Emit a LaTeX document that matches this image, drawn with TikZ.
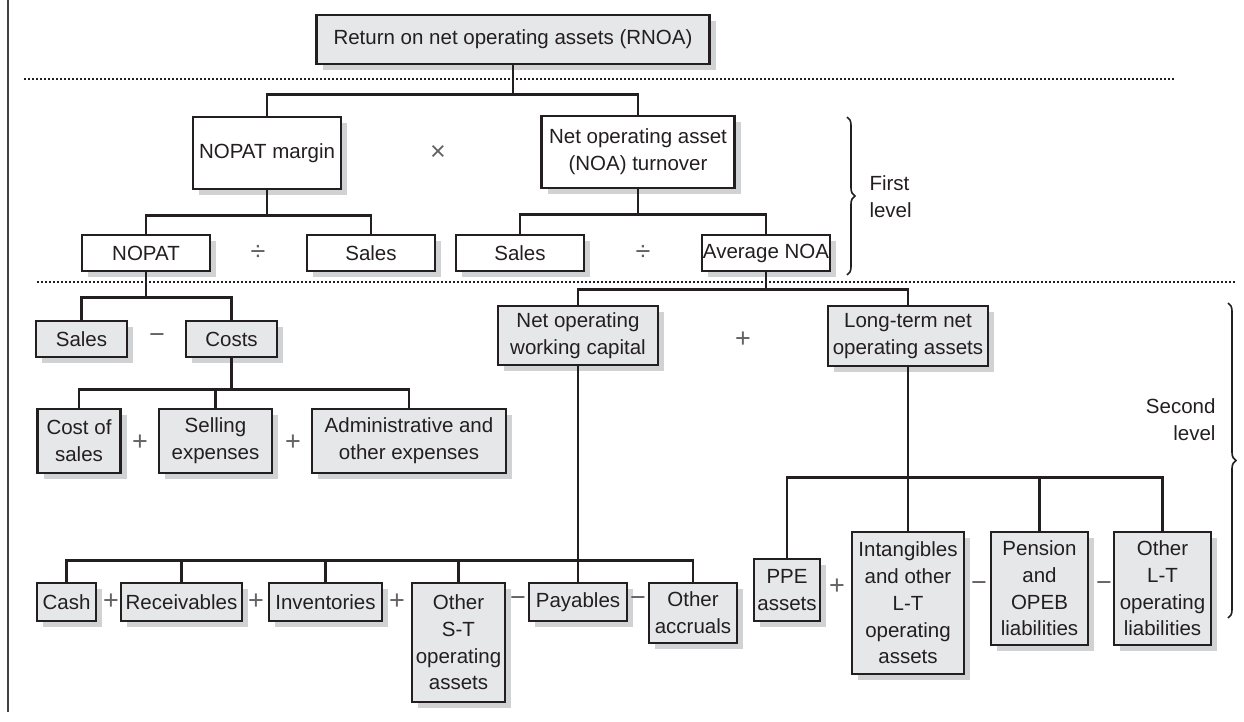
\documentclass[tikz,border=0pt]{standalone}
\usepackage{fontspec}
\setmainfont{Liberation Sans}
\usetikzlibrary{shadows, decorations.pathreplacing}

\definecolor{ink}{HTML}{231F20}
\definecolor{boxgrey}{HTML}{E6E7E8}
\definecolor{shadowgrey}{HTML}{D1D2D4}

\begin{document}
\begin{tikzpicture}
  [
    x=1pt, y=-1pt,
    every node/.style={font=\fontsize{20.5}{26.7}\selectfont, text=ink},
    box/.style={draw=ink, line width=2.6pt, inner sep=0pt, align=center,
      drop shadow={shadow xshift=6pt, shadow yshift=-6pt, fill=shadowgrey, opacity=1}},
    plainbox/.style={box, fill=white},
    greybox/.style={box, fill=boxgrey},
    link/.style={draw=ink, line width=2.4pt},
    op/.style={text=ink!70, font=\fontsize{27}{30}\selectfont},
    levelline/.style={draw=ink, line width=2.2pt, dash pattern=on 2.2pt off 1.8pt},
    levelbrace/.style={draw=ink, line width=1.6pt, decorate, decoration={brace, amplitude=8pt}}
  ]
  \useasboundingbox (0,0) rectangle (1244,721);

  % frame line and level separators
  \draw[ink!85, line width=2pt] (8,0) -- (8,712);
  \draw[levelline] (24,79) -- (1175,79);
  \draw[levelline] (37,282) -- (1235,282);

  % top
  \node[greybox, minimum width=393pt, minimum height=49pt] (rnoa) at (513,39.5)
    {Return on net operating assets (RNOA)};

  % first level
  \node[plainbox, minimum width=148pt, minimum height=72pt] (nopatm) at (267,153) {NOPAT margin};
  \node[plainbox, minimum width=193pt, minimum height=72pt] (noat) at (638,152)
    {Net operating asset\\(NOA) turnover};
  \node[plainbox, minimum width=128pt, minimum height=36pt] (nopat) at (146,253) {NOPAT};
  \node[plainbox, minimum width=128pt, minimum height=36pt] (salesa) at (371,253) {Sales};
  \node[plainbox, minimum width=128pt, minimum height=36pt] (salesb) at (520,253) {Sales};
  \node[plainbox, minimum width=128pt, minimum height=36pt] (avgnoa) at (766,253) {Average NOA};

  % second level, margin side
  \node[greybox, minimum width=91pt, minimum height=36pt] (salesc) at (81.5,339) {Sales};
  \node[greybox, minimum width=91pt, minimum height=36pt] (costs) at (231.5,339) {Costs};
  \node[greybox, minimum width=83pt, minimum height=64pt] (cogs) at (79,441) {Cost of\\sales};
  \node[greybox, minimum width=113pt, minimum height=64pt] (selling) at (215.5,441) {Selling\\expenses};
  \node[greybox, minimum width=194pt, minimum height=64pt] (admin) at (409,441)
    {Administrative and\\other expenses};

  % second level, turnover side
  \node[greybox, minimum width=160pt, minimum height=59pt] (nowc) at (578,335.5)
    {Net operating\\working capital};
  \node[greybox, minimum width=160pt, minimum height=60pt] (ltnoa) at (908,336)
    {Long-term net\\operating assets};

  \node[greybox, minimum width=59pt, minimum height=38pt] (cash) at (66.5,602) {Cash};
  \node[greybox, minimum width=121pt, minimum height=38pt] (recv) at (181.5,602) {Receivables};
  \node[greybox, minimum width=113pt, minimum height=38pt] (inv) at (325.5,602) {Inventories};
  \node[greybox, minimum width=93pt, minimum height=119pt] (othst) at (458.5,642.5)
    {Other\\S-T\\operating\\assets};
  \node[greybox, minimum width=98pt, minimum height=38pt] (pay) at (578,602) {Payables};
  \node[greybox, minimum width=88pt, minimum height=60pt] (accr) at (693,613) {Other\\accruals};

  \node[greybox, minimum width=66pt, minimum height=62pt] (ppe) at (787,590) {PPE\\assets};
  \node[greybox, minimum width=112pt, minimum height=142pt] (intang) at (908,603)
    {Intangibles\\and other\\L-T\\operating\\assets};
  \node[greybox, minimum width=97pt, minimum height=113pt] (pension) at (1039.5,588.5)
    {Pension\\and\\OPEB\\liabilities};
  \node[greybox, minimum width=97pt, minimum height=113pt] (othlt) at (1162.5,588.5)
    {Other\\L-T\\operating\\liabilities};

  % operators
  \node[op] (times) at (438,153) {×};
  \node[op] (diva) at (258,253) {÷};
  \node[op] (divb) at (643,253) {÷};
  \node[op] (mina) at (157,339) {−};
  \node[op] (plusa) at (140,443) {+};
  \node[op] (plusb) at (293,443) {+};
  \node[op] (plusc) at (743,340) {+};
  \node[op] (plusd) at (111,602) {+};
  \node[op] (pluse) at (256,602) {+};
  \node[op] (plusf) at (397,602) {+};
  \node[op] (minb) at (518,602) {−};
  \node[op] (minc) at (638,602) {−};
  \node[op] (plusg) at (837,587) {+};
  \node[op] (mind) at (979,587) {−};
  \node[op] (mine) at (1104,587) {−};

  % tree links
  \draw[link] (rnoa.south) -- ++(0,29) coordinate (r1) -| (nopatm.north);
  \draw[link] (r1) -| (noat.north);

  \draw[link] (nopatm.south) -- ++(0,25) coordinate (m1) -| (nopat.north);
  \draw[link] (m1) -| (salesa.north);
  \draw[link] (noat.south) -- ++(0,25) coordinate (t1) -| (salesb.north);
  \draw[link] (t1) -| (avgnoa.north);

  \draw[link] (nopat.south) -- ++(0,25) coordinate (n1) -| (salesc.north);
  \draw[link] (n1) -| (costs.north);
  \draw[link] (costs.south) -- ++(0,31) coordinate (c1) -| (cogs.north);
  \draw[link] (c1) -| (selling.north);
  \draw[link] (c1) -| (admin.north);

  \draw[link] (avgnoa.south) -- ++(0,17) coordinate (a1) -| (nowc.north);
  \draw[link] (a1) -| (ltnoa.north);

  \draw[link] (nowc.south) -- ++(0,194) coordinate (w1) -| (cash.north);
  \foreach \n in {recv, inv, othst, pay, accr}
    \draw[link] (w1) -| (\n.north);

  \draw[link] (ltnoa.south) -- ++(0,110) coordinate (l1) -| (ppe.north);
  \foreach \n in {intang, pension, othlt}
    \draw[link] (l1) -| (\n.north);

  % level braces
  \draw[levelbrace] (847,117) -- (847,275);
  \node[anchor=west, align=left] (first) at (866,197) {First\\level};
  \draw[levelbrace] (1228,303) -- (1228,618);
  \node[anchor=east, align=right] (second) at (1219,420) {Second\\level};
\end{tikzpicture}
\end{document}
